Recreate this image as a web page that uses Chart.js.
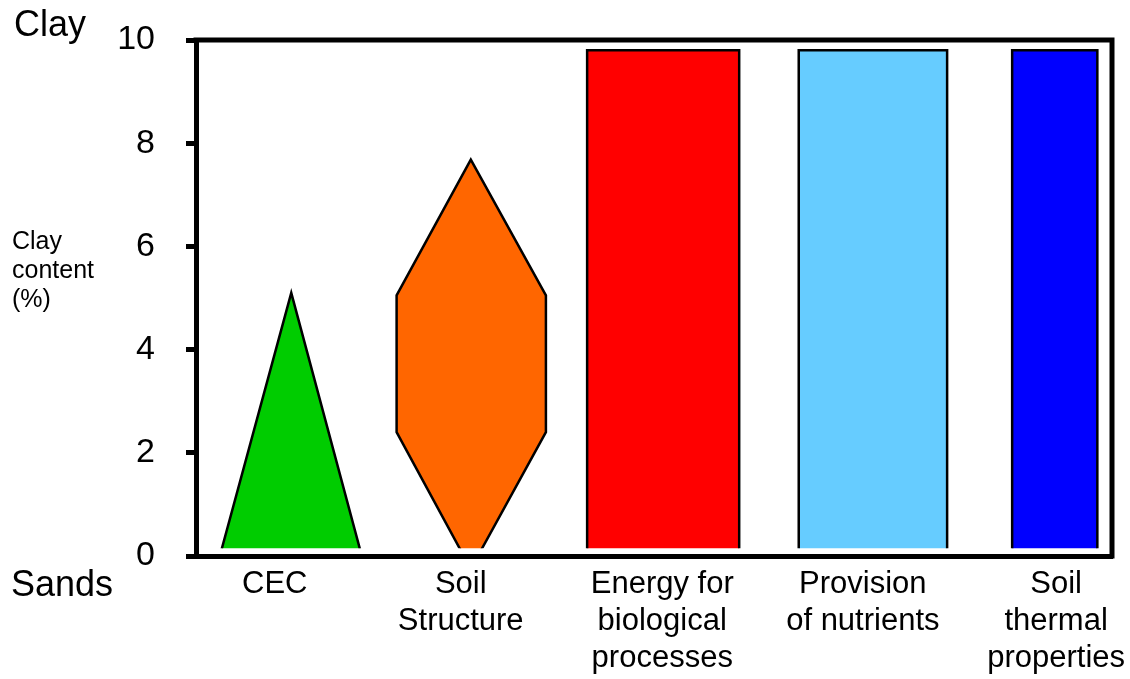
<!DOCTYPE html>
<html>
<head>
<meta charset="utf-8">
<script src="https://cdn.jsdelivr.net/npm/chart.js@4"></script>
<style>
  body { margin: 0; background: #fff; }
  canvas { display: block; }
</style>
</head>
<body>
<canvas id="chart" width="1130" height="679"></canvas>
<script>
// x labels and where they sit on the 0-10 horizontal scale
const categories = [
  ['CEC'],
  ['Soil', 'Structure'],
  ['Energy for', 'biological', 'processes'],
  ['Provision', 'of nutrients'],
  ['Soil', 'thermal', 'properties']
];
const labelPositions = [0.86, 2.89, 5.09, 7.28, 9.39];
const yTicks = [0, 2, 4, 6, 8, 10];

// shapes as polygon vertices [x, clay content]
const cecShape = [[0.26, 0], [1.04, 5.1], [1.81, 0]];
const structureShape = [[2.19, 2.4], [2.19, 5.05], [3.0, 7.68], [3.82, 5.05], [3.82, 2.4], [3.0, -0.25]];
const energyShape = [[4.27, 0], [4.27, 9.8], [5.93, 9.8], [5.93, 0]];
const nutrientShape = [[6.58, 0], [6.58, 9.8], [8.20, 9.8], [8.20, 0]];
const thermalShape = [[8.91, 0], [8.91, 9.8], [9.84, 9.8], [9.84, 0]];

const shapeColors = ['#00CC00', '#FF6600', '#FF0000', '#66CCFF', '#0000FF'];
const shapes = [cecShape, structureShape, energyShape, nutrientShape, thermalShape];

const FONT = "'Liberation Sans', Arial, sans-serif";
const clipValue = 0.15;

const polygonPlugin = {
  id: 'polygons',
  afterDatasetsDraw(chart) {
    const ctx = chart.ctx;
    const area = chart.chartArea;
    const yScale = chart.scales.y;
    const bottom = yScale.getPixelForValue(clipValue);
    chart.data.datasets.forEach((ds, i) => {
      const meta = chart.getDatasetMeta(i);
      ctx.save();
      ctx.beginPath();
      ctx.rect(area.left, area.top, area.right - area.left, bottom - area.top);
      ctx.clip();
      ctx.beginPath();
      meta.data.forEach((pt, j) => {
        if (j === 0) ctx.moveTo(pt.x, pt.y);
        else ctx.lineTo(pt.x, pt.y);
      });
      ctx.closePath();
      ctx.fillStyle = ds.polyColor;
      ctx.fill();
      ctx.lineWidth = 2.5;
      ctx.strokeStyle = '#000';
      ctx.lineJoin = 'miter';
      ctx.stroke();
      ctx.restore();
    });
  }
};

const framePlugin = {
  id: 'frame',
  afterDraw(chart) {
    const ctx = chart.ctx;
    const a = chart.chartArea;
    ctx.save();
    ctx.strokeStyle = '#000';
    ctx.lineWidth = 5;
    ctx.beginPath();
    ctx.moveTo(a.left - 2.5, a.top);
    ctx.lineTo(a.right, a.top);
    ctx.lineTo(a.right, a.bottom + 2.5);
    ctx.stroke();

    ctx.fillStyle = '#000';
    ctx.textBaseline = 'middle';
    ctx.textAlign = 'left';
    ctx.font = '36px ' + FONT;
    ctx.fillText('Clay', 14, 26);
    ctx.fillText('Sands', 11, 586);
    ctx.font = '25px ' + FONT;
    ctx.fillText('Clay', 12, 242);
    ctx.fillText('content', 12, 271);
    ctx.fillText('(%)', 12, 300);
    ctx.restore();
  }
};

new Chart(document.getElementById('chart'), {
  type: 'scatter',
  data: {
    datasets: shapes.map((s, i) => ({
      data: s.map(p => ({ x: p[0], y: p[1] })),
      polyColor: shapeColors[i],
      pointRadius: 0,
      showLine: false
    }))
  },
  options: {
    responsive: false,
    animation: false,
    clip: false,
    layout: { autoPadding: false, padding: { top: 40, right: 18, left: 0, bottom: 0 } },
    plugins: {
      legend: { display: false },
      tooltip: { enabled: false }
    },
    scales: {
      x: {
        type: 'linear',
        min: 0,
        max: 10,
        afterBuildTicks: scale => {
          scale.ticks = labelPositions.map(v => ({ value: v }));
        },
        afterFit: scale => {
          scale.height = 123;
          scale.paddingLeft = 0;
          scale.paddingRight = 0;
        },
        ticks: {
          autoSkip: false,
          maxRotation: 0,
          padding: 10,
          color: '#000',
          font: { family: FONT, size: 31, lineHeight: 1.19 },
          callback: (value, index) => categories[index]
        },
        grid: { display: false, drawTicks: false },
        border: { display: true, color: '#000', width: 5 }
      },
      y: {
        min: 0,
        max: 10,
        afterBuildTicks: scale => {
          scale.ticks = yTicks.map(v => ({ value: v }));
        },
        afterFit: scale => {
          scale.width = 196;
          scale.paddingTop = 0;
          scale.paddingBottom = 0;
        },
        ticks: {
          padding: 31,
          color: '#000',
          font: { family: FONT, size: 34 }
        },
        grid: {
          drawOnChartArea: false,
          drawTicks: true,
          tickLength: 10,
          tickWidth: 5,
          tickColor: '#000'
        },
        border: { display: true, color: '#000', width: 5 }
      }
    }
  },
  plugins: [polygonPlugin, framePlugin]
});
</script>
</body>
</html>
